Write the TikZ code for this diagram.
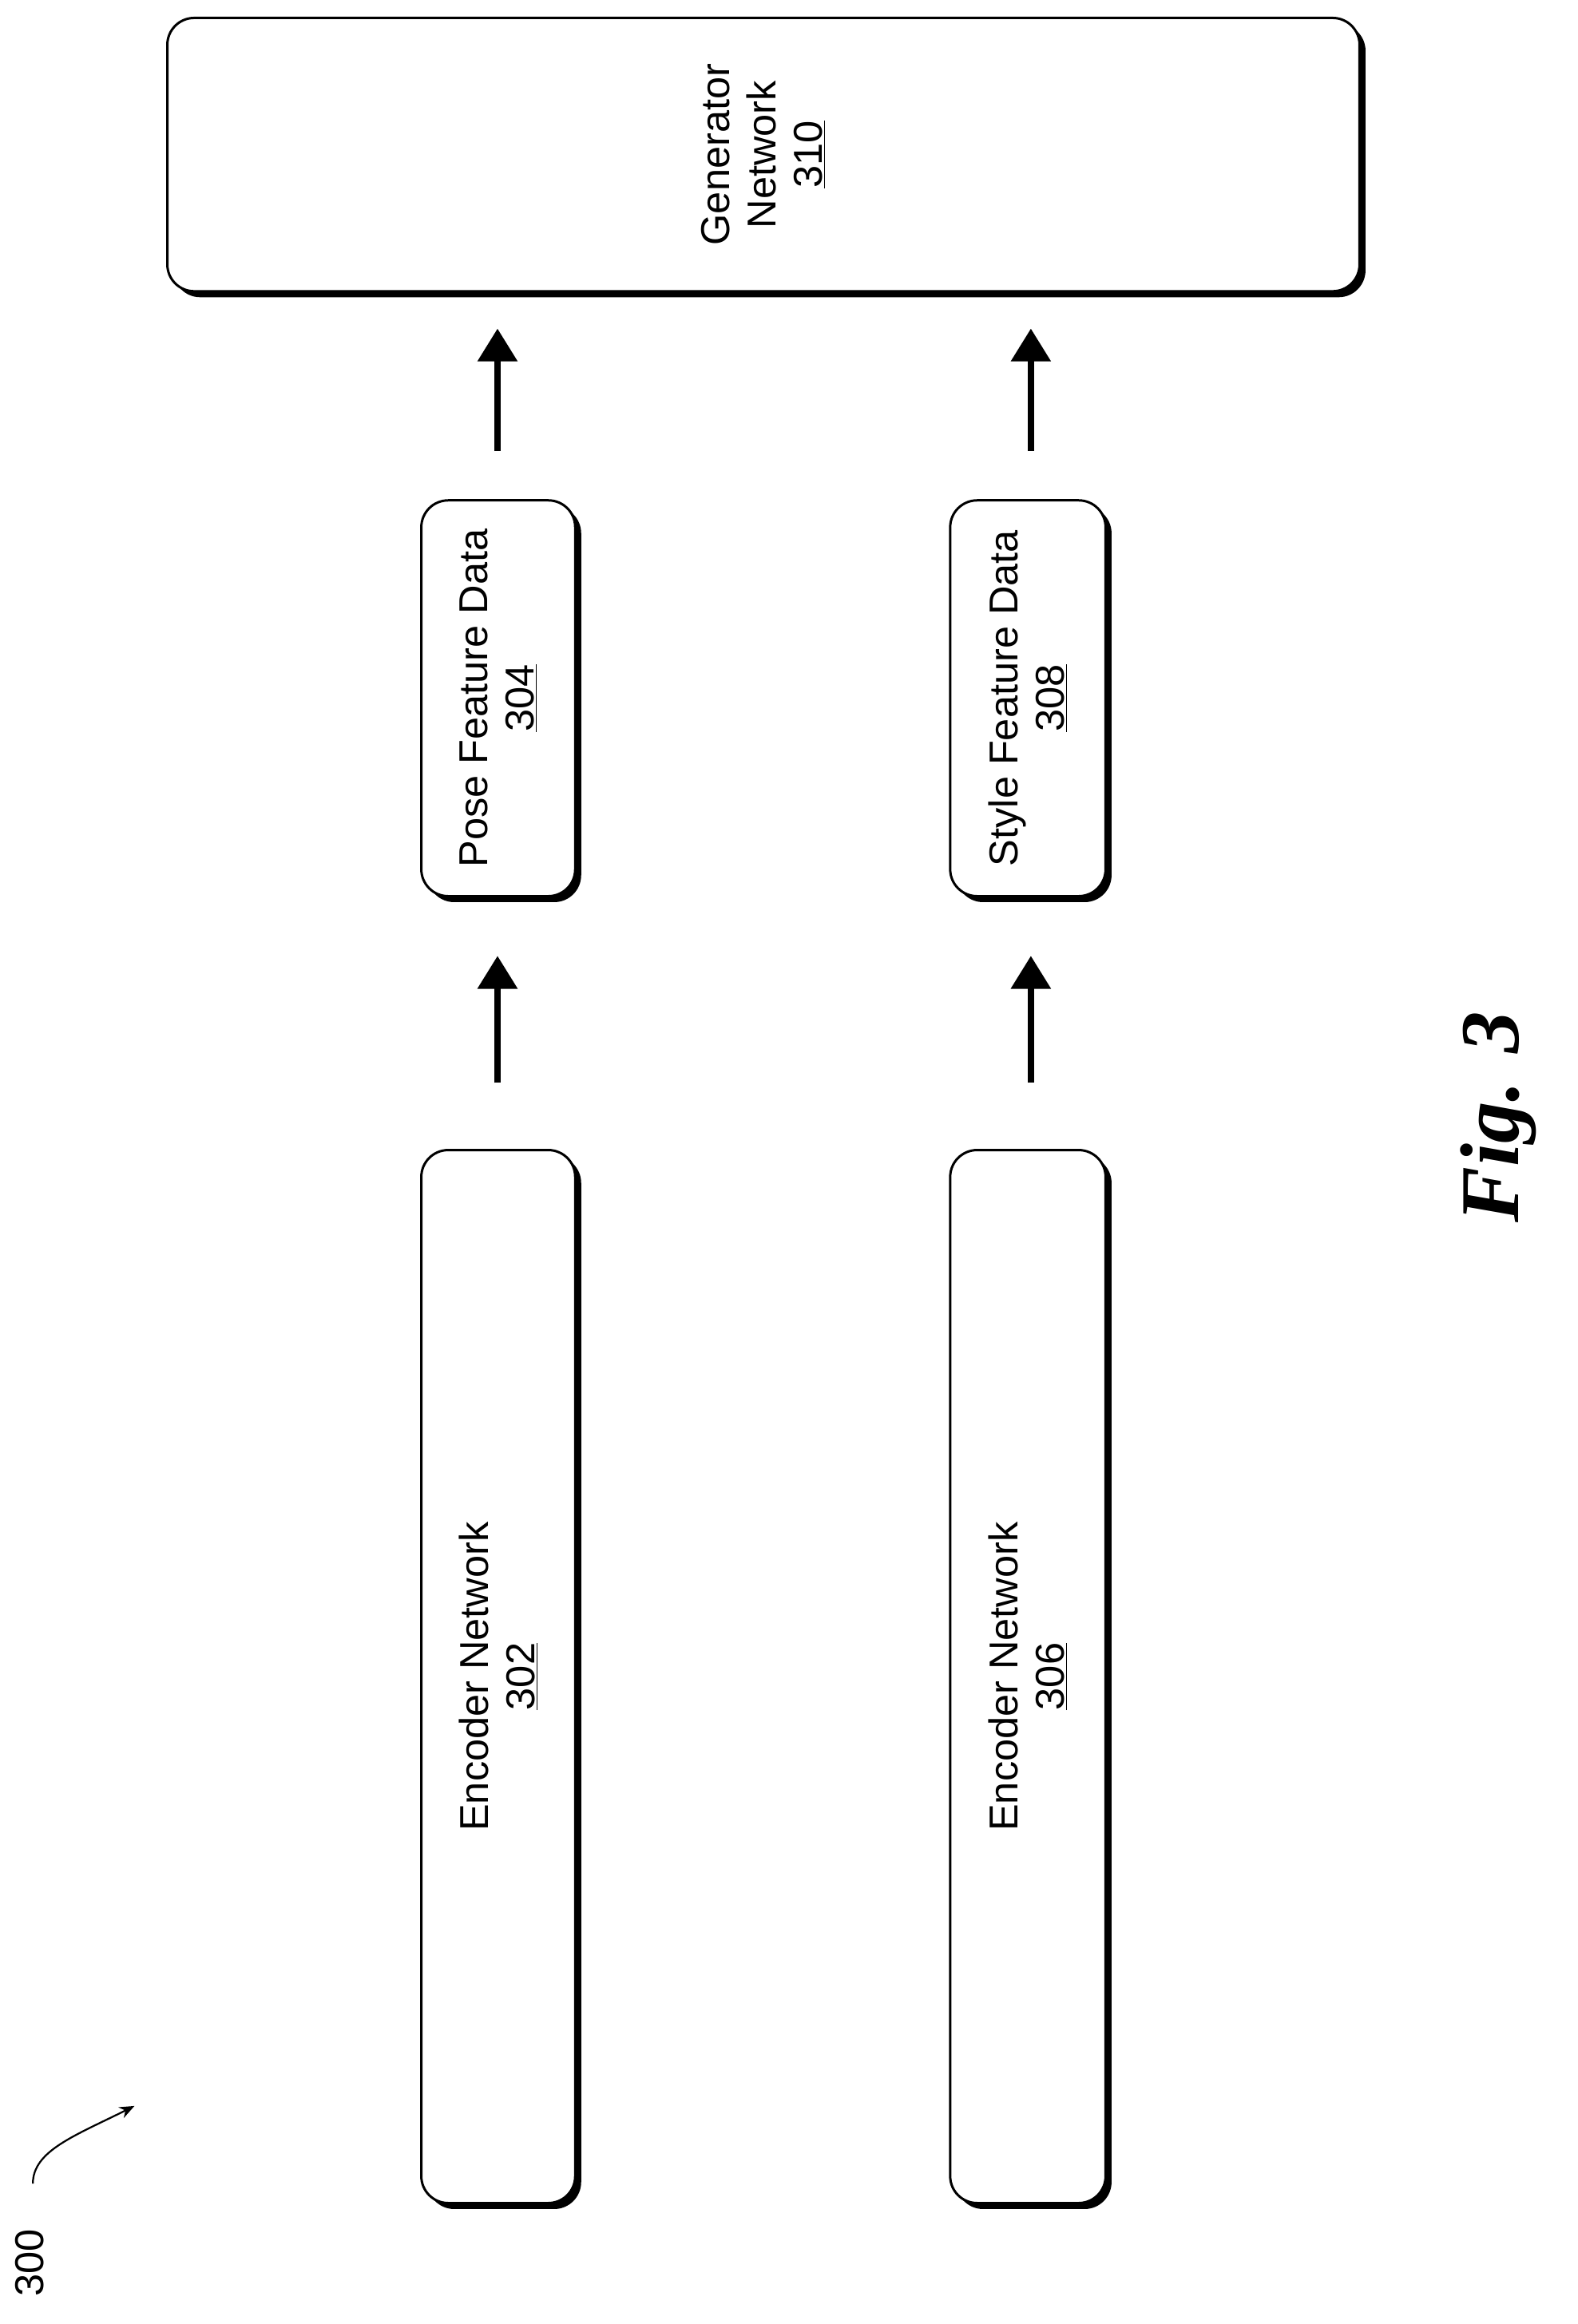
\documentclass[tikz,border=0pt]{standalone}
\usepackage{fontspec}
\setmainfont{Liberation Sans}
\newfontfamily\figfont{Liberation Serif}
\usetikzlibrary{arrows.meta}
\begin{document}
\begin{tikzpicture}[x=1pt,y=-1pt,
  bx/.style={draw,line width=1.6pt,fill=white,rounded corners=18pt,inner sep=0pt},
  sh/.style={fill=black,rounded corners=18pt},
  lbl/.style={font=\fontsize{27}{31}\selectfont,rotate=90,align=center},
  arr/.style={line width=4pt,-{Triangle[length=22pt,width=26pt]}}]
\useasboundingbox (0,0) rectangle (1056,1556);
\fill[sh] (116,16) rectangle (914,199);
\fill[sh] (286,339) rectangle (389,604);
\fill[sh] (640,339) rectangle (744,604);
\fill[sh] (286,774) rectangle (389,1479);
\fill[sh] (640,774) rectangle (744,1479);
\node[bx,minimum width=798pt,minimum height=183pt] (gen) at (511,103.5) {};
\node[bx,minimum width=103pt,minimum height=265pt] (pose) at (333.5,467.5) {};
\node[bx,minimum width=104pt,minimum height=265pt] (style) at (688,467.5) {};
\node[bx,minimum width=103pt,minimum height=705pt] (enc1) at (333.5,1122.5) {};
\node[bx,minimum width=104pt,minimum height=705pt] (enc2) at (688,1122.5) {};
\node[lbl] at (gen) {Generator\\Network\\\underline{310}};
\node[lbl] at (pose) {Pose Feature Data\\\underline{304}};
\node[lbl] at (style) {Style Feature Data\\\underline{308}};
\node[lbl] at (enc1) {Encoder Network\\\underline{302}};
\node[lbl] at (enc2) {Encoder Network\\\underline{306}};
\coordinate (a1s) at (333,302); \coordinate (a1e) at (333,220);
\coordinate (a2s) at (690,302); \coordinate (a2e) at (690,220);
\coordinate (a3s) at (333,725); \coordinate (a3e) at (333,640);
\coordinate (a4s) at (690,725); \coordinate (a4e) at (690,640);
\draw[arr] (a1s) -- (a1e);
\draw[arr] (a2s) -- (a2e);
\draw[arr] (a3s) -- (a3e);
\draw[arr] (a4s) -- (a4e);
\node[lbl] (n300) at (20,1515) {300};
\coordinate (c1) at (22,1462); \coordinate (c2) at (90,1410);
\draw[line width=1.2pt,-{Stealth[length=10pt,width=8pt]}] (c1) .. controls (22,1440) and (50,1430) .. (c2);
\node[rotate=90,font=\figfont\bfseries\itshape\fontsize{56}{62}\selectfont] (fig) at (1003,748) {Fig. 3};
\end{tikzpicture}
\end{document}
